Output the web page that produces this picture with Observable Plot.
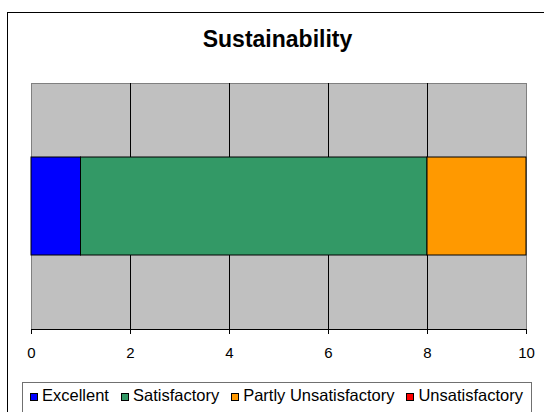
<!DOCTYPE html>
<html>
<head>
<meta charset="utf-8">
<script src="https://cdn.jsdelivr.net/npm/d3@7"></script>
<script src="https://cdn.jsdelivr.net/npm/@observablehq/plot@0.6"></script>
<style>
  html, body { margin: 0; padding: 0; background: #fff; overflow: hidden; width: 544px; height: 412px; }
  body { position: relative; font-family: "Liberation Sans", Arial, sans-serif; }
  #outer { position: absolute; left: 7px; top: 12px; width: 600px; height: 500px; border: 1px solid #000; box-sizing: border-box; }
  #title { position: absolute; left: 0; top: 28px; width: 555px; text-align: center; font-weight: bold; font-size: 23px; line-height: 23px; color: #000; }
  #chart { position: absolute; left: 0; top: 0; }
  #legend { position: absolute; left: 22px; top: 382px; width: 510px; height: 40px; box-sizing: border-box; border: 1px solid #707070; background: #fff;
            padding: 4px 8px 0 7px; display: flex; justify-content: space-between; align-items: baseline; font-size: 16.5px; line-height: 16.5px; color: #000; white-space: nowrap; }
  .sw { display: inline-block; width: 6px; height: 6px; border: 1px solid #000; margin-right: 4px; vertical-align: baseline; }
</style>
</head>
<body>
<div id="outer"></div>
<div id="title"></div>
<div id="chart"></div>
<div id="legend"></div>
<script>
// Data
const chartTitle = "Sustainability";
const rowLabel = "Sustainability";
const categories = ["Excellent", "Satisfactory", "Partly Unsatisfactory", "Unsatisfactory"];
const values = [1, 7, 2, 0];
const colors = ["#0000FF", "#339966", "#FF9900", "#FF0000"];
const xTicks = [0, 2, 4, 6, 8, 10];
const gridValues = [2, 4, 6, 8];

const table = categories.map((c, i) => ({category: c, value: values[i], row: rowLabel}));

document.getElementById("title").textContent = chartTitle;

const chart = Plot.plot({
  width: 544,
  height: 370,
  marginLeft: 31,
  marginRight: 18,
  marginTop: 83,
  marginBottom: 41,
  style: {fontFamily: "'Liberation Sans', Arial, sans-serif", fontSize: "15px", color: "#000", background: "transparent"},
  x: {domain: [0, 10], axis: null, label: null},
  y: {domain: [rowLabel], paddingInner: 0.6, paddingOuter: 0.3, axis: null, label: null},
  color: {domain: categories, range: colors},
  marks: [
    Plot.frame({fill: "#C0C0C0", stroke: "#808080"}),
    Plot.ruleX(gridValues, {stroke: "#000", strokeWidth: 1}),
    Plot.barX(table, Plot.stackX({x: "value", y: "row", fill: "category", stroke: "#000", strokeWidth: 1, order: categories})),
    Plot.frame({anchor: "bottom", stroke: "#000"}),
    Plot.axisX({ticks: xTicks, tickSize: 5, tickPadding: 13, fontSize: 15, label: null, tickFormat: d => String(d)})
  ]
});
document.getElementById("chart").appendChild(chart);

const legend = document.getElementById("legend");
categories.forEach((c, i) => {
  const item = document.createElement("span");
  const sw = document.createElement("span");
  sw.className = "sw";
  sw.style.background = colors[i];
  item.appendChild(sw);
  item.appendChild(document.createTextNode(c));
  legend.appendChild(item);
});
</script>
</body>
</html>
